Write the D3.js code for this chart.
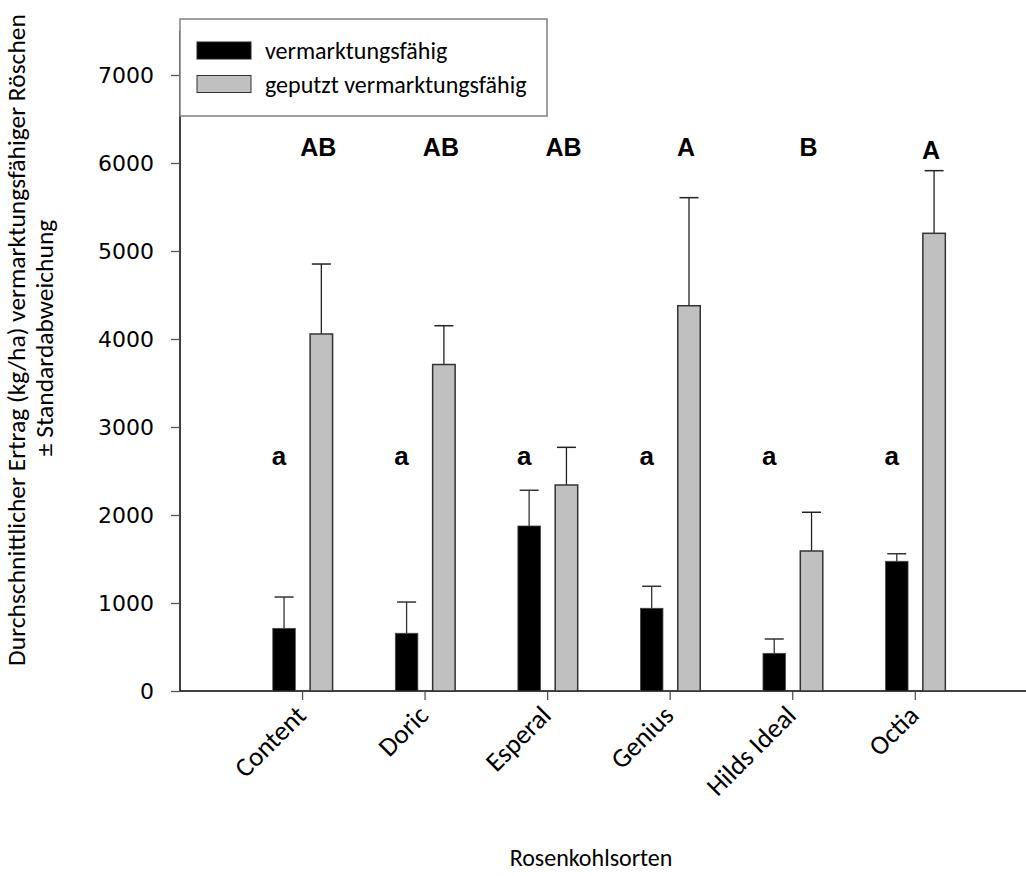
<!DOCTYPE html>
<html>
<head>
<meta charset="utf-8">
<script src="https://cdn.jsdelivr.net/npm/d3@7"></script>
<style>
  body { margin: 0; background: #fff; }
  svg { display: block; }
</style>
</head>
<body>
<svg id="chart" width="1026" height="876"></svg>
<script>
// --- data ---
const sorten = ["Content", "Doric", "Esperal", "Genius", "Hilds Ideal", "Octia"];
const vermarktbar = [712, 656, 1875, 940, 428, 1474];
const vermarktbarSD = [356, 355, 406, 250, 163, 86];
const geputzt = [4057, 3710, 2341, 4378, 1591, 5201];
const geputztSD = [795, 441, 428, 1228, 440, 712];
const lowerLetters = ["a", "a", "a", "a", "a", "a"];
const upperLetters = ["AB", "AB", "AB", "A", "B", "A"];
const yTicks = [0, 1000, 2000, 3000, 4000, 5000, 6000, 7000];

const width = 1026;
const height = 876;
const svg = d3.select("#chart");
const calibri = "Carlito, Calibri, Lato, sans-serif";

// scales
const x = d3.scaleLinear().domain([0, 6.83]).range([180, 1017]);
const y = d3.scaleLinear().domain([0, 7000]).range([691, 75]);

const barW = 22.5;
const offBlack = -18.5;
const offGrey = 18.8;

// --- axes ---
svg.append("line")
  .attr("x1", 180).attr("x2", 180)
  .attr("y1", y(0)).attr("y2", y(7500))
  .attr("stroke", "#000").attr("stroke-width", 1.5);

svg.append("line")
  .attr("x1", 180).attr("x2", 1026)
  .attr("y1", y(0)).attr("y2", y(0))
  .attr("stroke", "#000").attr("stroke-width", 1.5);

const yAxis = svg.append("g")
  .attr("transform", "translate(180,0)")
  .call(d3.axisLeft(y).tickValues(yTicks).tickSize(9).tickPadding(17).tickFormat(d3.format("d")));
yAxis.select(".domain").remove();
yAxis.selectAll(".tick line").attr("stroke", "#555").attr("stroke-width", 1.3);
yAxis.selectAll(".tick text")
  .attr("font-family", "DejaVu Sans, Verdana, sans-serif")
  .attr("font-size", 22)
  .attr("fill", "#000");

// category ticks
svg.append("g").selectAll("line")
  .data(sorten)
  .join("line")
  .attr("x1", (d, i) => x(i + 1)).attr("x2", (d, i) => x(i + 1))
  .attr("y1", y(0) + 1).attr("y2", y(0) + 9)
  .attr("stroke", "#555").attr("stroke-width", 1.3);

// category labels
svg.append("g").selectAll("text")
  .data(sorten)
  .join("text")
  .attr("transform", (d, i) => `translate(${x(i + 1) + 5},${y(0) + 26}) rotate(-45)`)
  .attr("text-anchor", "end")
  .attr("font-family", calibri)
  .attr("font-size", 27)
  .attr("fill", "#000")
  .text(d => d);

// --- bars ---
function errorBars(values, sd, off, color) {
  const g = svg.append("g");
  values.forEach((v, i) => {
    const cx = x(i + 1) + off;
    g.append("line")
      .attr("x1", cx).attr("x2", cx)
      .attr("y1", y(v)).attr("y2", y(v + sd[i]))
      .attr("stroke", color).attr("stroke-width", 1.3);
    g.append("line")
      .attr("x1", cx - 9.5).attr("x2", cx + 9.5)
      .attr("y1", y(v + sd[i])).attr("y2", y(v + sd[i]))
      .attr("stroke", color).attr("stroke-width", 1.5);
  });
}

errorBars(vermarktbar, vermarktbarSD, offBlack, "#333");
errorBars(geputzt, geputztSD, offGrey, "#222");

svg.append("g").selectAll("rect")
  .data(vermarktbar)
  .join("rect")
  .attr("x", (d, i) => x(i + 1) + offBlack - barW / 2)
  .attr("y", d => y(d))
  .attr("width", barW)
  .attr("height", d => y(0) - y(d))
  .attr("fill", "#000")
  .attr("stroke", "#444")
  .attr("stroke-width", 0.8);

svg.append("g").selectAll("rect")
  .data(geputzt)
  .join("rect")
  .attr("x", (d, i) => x(i + 1) + offGrey - barW / 2)
  .attr("y", d => y(d))
  .attr("width", barW)
  .attr("height", d => y(0) - y(d))
  .attr("fill", "#c0c0c0")
  .attr("stroke", "#333")
  .attr("stroke-width", 1.5);

// --- significance letters ---
svg.append("g").selectAll("text")
  .data(lowerLetters)
  .join("text")
  .attr("x", (d, i) => x(i + 1) + offBlack - 5)
  .attr("y", 465)
  .attr("text-anchor", "middle")
  .attr("font-family", "Liberation Sans, Arial, sans-serif")
  .attr("font-weight", "bold")
  .attr("font-size", 26)
  .attr("fill", "#000")
  .text(d => d);

svg.append("g").selectAll("text")
  .data(upperLetters)
  .join("text")
  .attr("x", (d, i) => x(i + 1) + offGrey - 3)
  .attr("y", (d, i) => i === 5 ? 159 : 156)
  .attr("text-anchor", "middle")
  .attr("font-family", "Liberation Sans, Arial, sans-serif")
  .attr("font-weight", "bold")
  .attr("font-size", 25)
  .attr("fill", "#000")
  .text(d => d);

// --- legend ---
const legend = svg.append("g");
legend.append("rect")
  .attr("x", 180).attr("y", 19)
  .attr("width", 367).attr("height", 97)
  .attr("fill", "#fff")
  .attr("stroke", "#808080").attr("stroke-width", 1.5);

const legendItems = [
  { label: "vermarktungsfähig", fill: "#000", stroke: "#222" },
  { label: "geputzt vermarktungsfähig", fill: "#c0c0c0", stroke: "#333" }
];
legendItems.forEach((d, i) => {
  const yy = 42 + i * 33.5;
  legend.append("rect")
    .attr("x", 197).attr("y", yy)
    .attr("width", 54).attr("height", 17)
    .attr("fill", d.fill).attr("stroke", d.stroke).attr("stroke-width", 1);
  legend.append("text")
    .attr("x", 265).attr("y", yy + 17)
    .attr("font-family", calibri)
    .attr("font-size", 24)
    .attr("fill", "#000")
    .text(d.label);
});

// --- axis titles ---
svg.append("text")
  .attr("transform", "translate(25,340) rotate(-90)")
  .attr("text-anchor", "middle")
  .attr("font-family", calibri)
  .attr("font-size", 25.5)
  .attr("fill", "#000")
  .text("Durchschnittlicher Ertrag (kg/ha) vermarktungsfähiger Röschen");

svg.append("text")
  .attr("transform", "translate(53,338) rotate(-90)")
  .attr("text-anchor", "middle")
  .attr("font-family", calibri)
  .attr("font-size", 25.5)
  .attr("fill", "#000")
  .text("± Standardabweichung");

svg.append("text")
  .attr("x", 591).attr("y", 866)
  .attr("text-anchor", "middle")
  .attr("font-family", calibri)
  .attr("font-size", 24)
  .attr("fill", "#000")
  .text("Rosenkohlsorten");
</script>
</body>
</html>
